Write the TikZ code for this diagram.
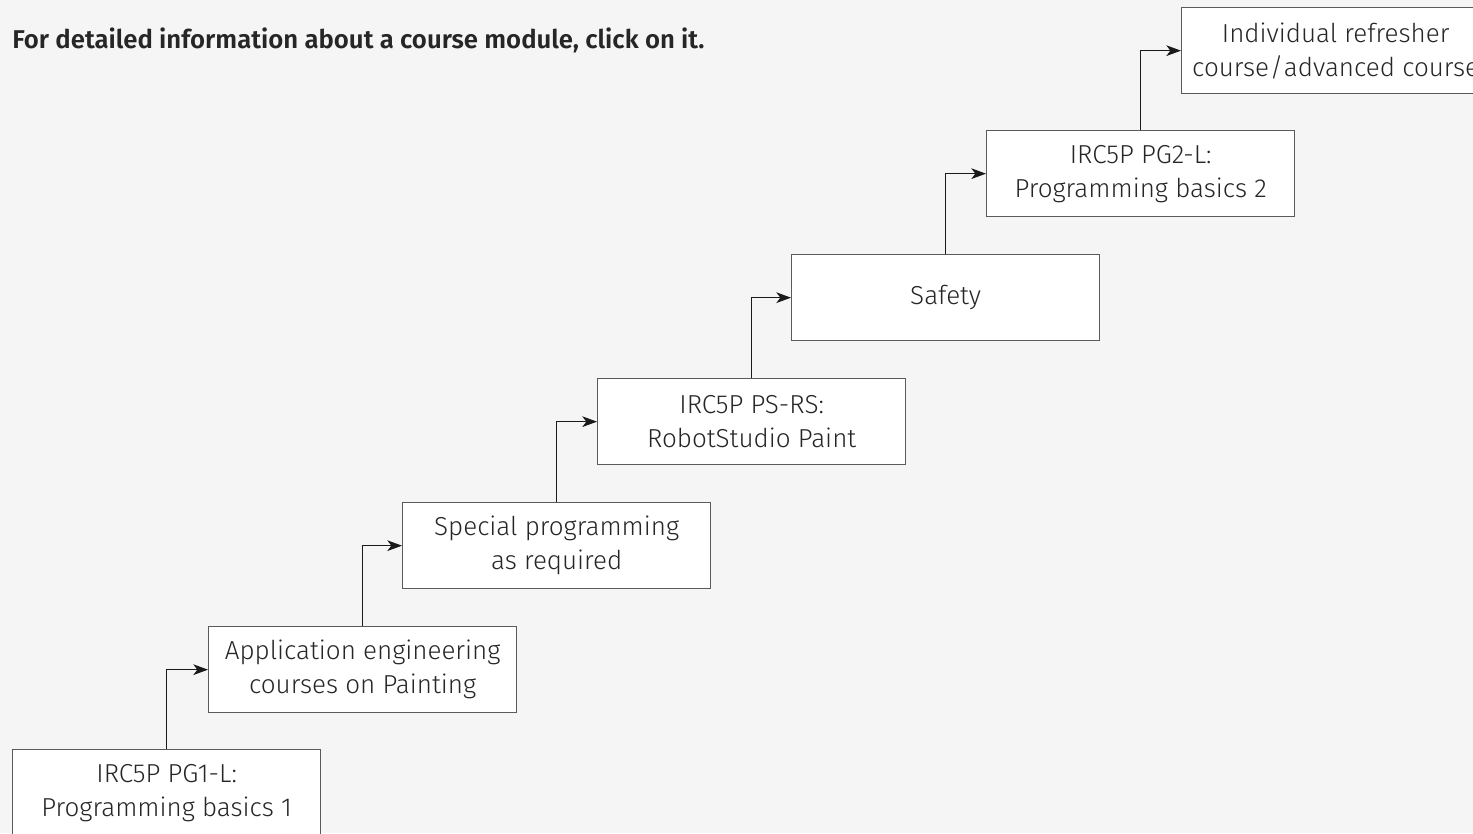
\documentclass[tikz,border=0pt]{standalone}
\usepackage{fontspec}
\setmainfont{Fira Sans}[UprightFont={* Light},BoldFont={* SemiBold}]
\usetikzlibrary{arrows.meta}
\definecolor{bggray}{HTML}{F5F5F5}
\definecolor{boxline}{HTML}{5A5A5A}
\definecolor{txt}{HTML}{262626}
\definecolor{arr}{HTML}{1A1A1A}
\begin{document}
\begin{tikzpicture}[x=0.75pt,y=-0.75pt,
  box/.style={draw=boxline, line width=1pt, fill=white, anchor=north west,
    minimum width=231pt, minimum height=64.5pt, inner sep=0pt, align=center,
    text=txt, font=\fontsize{19.5}{25.5}\selectfont},
  conn/.style={draw=arr, line width=1pt, -{Stealth[length=11pt,width=8pt,inset=3pt]}}]
\fill[bggray] (0,0) rectangle (1473,833);
\useasboundingbox (0,0) rectangle (1473,833);
\clip (0,0) rectangle (1473,833);
\node[anchor=base west, font=\bfseries\fontsize{19.3}{22}\selectfont, text=txt, inner sep=0pt] (title) at (12,48) {For detailed information about a course module, click on it.};
\node[box] (b1) at (12,749) {IRC5P PG1-L:\\Programming basics 1};
\node[box] (b2) at (208,626) {Application engineering\\courses on Painting};
\node[box] (b3) at (402,502) {Special programming\\as required};
\node[box] (b4) at (597,378) {IRC5P PS-RS:\\RobotStudio Paint};
\node[box] (b5) at (791,254) {Safety};
\node[box] (b6) at (986,130) {IRC5P PG2-L:\\Programming basics 2};
\node[box] (b7) at (1181,7) {Individual refresher\\course\kern0.5pt/\kern0.5pt advanced course};
\draw[conn] (b1.north) |- (b2.west);
\draw[conn] (b2.north) |- (b3.west);
\draw[conn] (b3.north) |- (b4.west);
\draw[conn] (b4.north) |- (b5.west);
\draw[conn] (b5.north) |- (b6.west);
\draw[conn] (b6.north) |- (b7.west);
\end{tikzpicture}
\end{document}
